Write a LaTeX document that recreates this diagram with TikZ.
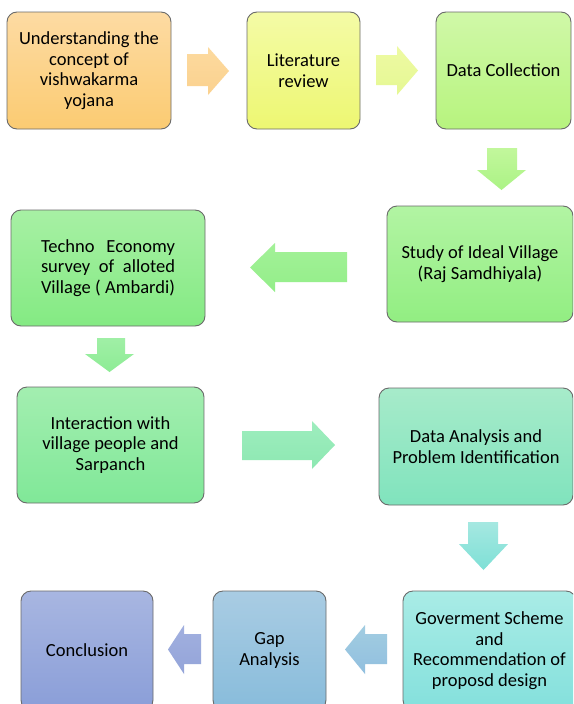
\documentclass[tikz,border=0pt]{standalone}
\usepackage{fontspec}
\setmainfont{Carlito}
\definecolor{otop}{HTML}{FDDBA3}\definecolor{obot}{HTML}{FBCB72}
\definecolor{ytop}{HTML}{F4FBA6}\definecolor{ybot}{HTML}{EDF772}
\definecolor{gAtop}{HTML}{D0F8A8}\definecolor{gAbot}{HTML}{B7F47E}
\definecolor{gBtop}{HTML}{B2F4A3}\definecolor{gBbot}{HTML}{92EE82}
\definecolor{gCtop}{HTML}{A7F0A4}\definecolor{gCbot}{HTML}{84EA83}
\definecolor{gDtop}{HTML}{A3EEB0}\definecolor{gDbot}{HTML}{80E898}
\definecolor{tEtop}{HTML}{A7EBCA}\definecolor{tEbot}{HTML}{80E3BD}
\definecolor{cFtop}{HTML}{A9ECE6}\definecolor{cFbot}{HTML}{84E0DC}
\definecolor{bGtop}{HTML}{A9CCE3}\definecolor{bGbot}{HTML}{88BCDB}
\definecolor{pHtop}{HTML}{A8B6E1}\definecolor{pHbot}{HTML}{8A9ED8}
\definecolor{edge}{HTML}{6A6A6A}
\definecolor{a1t}{HTML}{FCDA9F}\definecolor{a1b}{HTML}{FBD18E}
\definecolor{a2t}{HTML}{EEFAA3}\definecolor{a2b}{HTML}{E5F893}
\definecolor{a3t}{HTML}{C2F79C}\definecolor{a3b}{HTML}{ABF385}
\definecolor{a4t}{HTML}{A3F198}\definecolor{a4b}{HTML}{93EE89}
\definecolor{a5t}{HTML}{A0EFA6}\definecolor{a5b}{HTML}{8DEC95}
\definecolor{a6t}{HTML}{9EEDBE}\definecolor{a6b}{HTML}{8DE8B2}
\definecolor{a7t}{HTML}{A5E8E1}\definecolor{a7b}{HTML}{7EE0D6}
\definecolor{a8t}{HTML}{A2CDE1}\definecolor{a8b}{HTML}{91BFDF}
\definecolor{a9t}{HTML}{A2B0DF}\definecolor{a9b}{HTML}{93A4D9}
\newcommand\boxfont{\fontsize{18.5}{20.5}\selectfont}
\tikzset{
  box/.style={draw=edge, line width=0.9pt, rounded corners=10pt, align=center,
    inner sep=0pt, font=\boxfont, text=black},
  barrow/.style={draw=none},
}
\begin{document}
\begin{tikzpicture}[x=1pt,y=-1pt]
\clip (0,0) rectangle (573,704);
\fill[white] (0,0) rectangle (573,704);
% boxes
\node[box, top color=otop, bottom color=obot, minimum width=164pt, minimum height=117pt] (b1) at (89,70.5)
  {Understanding the\\concept of\\vishwakarma\\yojana};
\node[box, top color=ytop, bottom color=ybot, minimum width=113pt, minimum height=117pt] (b2) at (303.5,70.5)
  {Literature\\review};
\node[box, top color=gAtop, bottom color=gAbot, minimum width=135pt, minimum height=117pt] (b3) at (503.5,70.5)
  {Data Collection};
\node[box, top color=gBtop, bottom color=gBbot, minimum width=186pt, minimum height=116pt] (b4) at (480,264)
  {Study of Ideal Village\\(Raj Samdhiyala)};
\node[box, top color=gCtop, bottom color=gCbot, minimum width=194pt, minimum height=116pt] (b5) at (108,268)
  {\makebox[134pt][s]{Techno Economy}\\\makebox[134pt][s]{survey of alloted}\\\makebox[134pt][s]{Village ( Ambardi)}};
\node[box, top color=gDtop, bottom color=gDbot, minimum width=187pt, minimum height=116pt] (b6) at (110.5,445)
  {Interaction with\\village people and\\Sarpanch};
\node[box, top color=tEtop, bottom color=tEbot, minimum width=194pt, minimum height=117pt] (b7) at (476,446.5)
  {Data Analysis and\\Problem Identification};
\node[box, top color=cFtop, bottom color=cFbot, minimum width=173pt, minimum height=119pt] (b8) at (489.5,650.5)
  {Goverment Scheme\\and\\Recommendation of\\proposd design};
\node[box, top color=bGtop, bottom color=bGbot, minimum width=113pt, minimum height=119pt] (b9) at (269.5,650.5)
  {Gap\\Analysis};
\node[box, top color=pHtop, bottom color=pHbot, minimum width=132pt, minimum height=119pt] (b10) at (87,650.5)
  {Conclusion};
% block arrows
\path[barrow, top color=a1t, bottom color=a1b]
  (187,54)--(208,54)--(208,47)--(229,71)--(208,95)--(208,86)--(187,86)--cycle;
\path[barrow, top color=a2t, bottom color=a2b]
  (376,55)--(397,55)--(397,46)--(418,70.5)--(397,95)--(397,85)--(376,85)--cycle;
\path[barrow, top color=a3t, bottom color=a3b]
  (487,148)--(517,148)--(517,170)--(526,170)--(501.5,190)--(477,170)--(487,170)--cycle;
\path[barrow, top color=a4t, bottom color=a4b]
  (347,252)--(275,252)--(275,243)--(250,267.5)--(275,292)--(275,282)--(347,282)--cycle;
\path[barrow, top color=a5t, bottom color=a5b]
  (97,338)--(125,338)--(125,354)--(134,354)--(109.5,372)--(85,354)--(97,354)--cycle;
\path[barrow, top color=a6t, bottom color=a6b]
  (242,431)--(312,431)--(312,421)--(335,445)--(312,469)--(312,460)--(242,460)--cycle;
\path[barrow, top color=a7t, bottom color=a7b]
  (468,522)--(498,522)--(498,544)--(508,544)--(483.5,570)--(459,544)--(468,544)--cycle;
\path[barrow, top color=a8t, bottom color=a8b]
  (387,634)--(365,634)--(365,625)--(345,649.5)--(365,674)--(365,664)--(387,664)--cycle;
\path[barrow, top color=a9t, bottom color=a9b]
  (201,634)--(184,634)--(184,625)--(168,649.5)--(184,674)--(184,664)--(201,664)--cycle;
\end{tikzpicture}
\end{document}
